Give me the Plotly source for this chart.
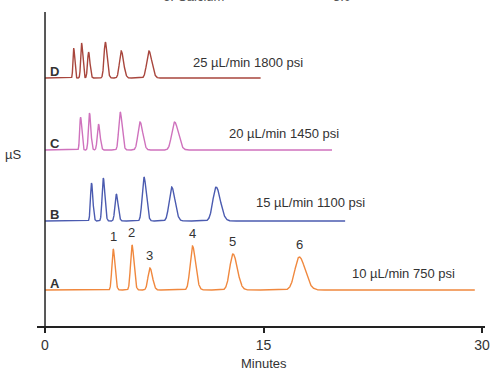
import numpy as np
import plotly.graph_objects as go

# ---- data ----
run_names = ["A", "B", "C", "D"]
run_conditions = ["10 µL/min 750 psi", "15 µL/min 1100 psi", "20 µL/min 1450 psi", "25 µL/min 1800 psi"]
run_colors = ["#f0883e", "#4b5bb0", "#cf72bd", "#a8463d"]
run_end_min = [29.5, 20.6, 19.7, 14.8]

# retention times (min)
rt_A = [4.68, 5.97, 7.20, 10.12, 12.90, 17.45]
rt_B = [3.19, 4.00, 4.89, 6.79, 8.69, 11.74]
rt_C = [2.44, 3.05, 3.67, 5.16, 6.52, 8.89]
rt_D = [1.97, 2.51, 2.99, 4.14, 5.23, 7.13]

# peak heights (µS, arbitrary)
h_A = [41, 45, 22, 44, 36, 33]
h_B = [38, 43, 27, 44, 34, 34]
h_C = [33, 37, 26, 38, 28, 28]
h_D = [30, 35, 26, 36, 27, 27]

# peak widths (sigma, min)
w_A = [0.09, 0.10, 0.13, 0.16, 0.22, 0.30]
w_B = [0.07, 0.08, 0.09, 0.12, 0.17, 0.22]
w_C = [0.06, 0.07, 0.08, 0.10, 0.14, 0.19]
w_D = [0.05, 0.06, 0.07, 0.09, 0.12, 0.15]

peak_labels = ["1", "2", "3", "4", "5", "6"]

x_ticks = [0, 15, 30]

# ---- layout constants ----
baselines = [36, 105, 176, 248]
rts = [rt_A, rt_B, rt_C, rt_D]
hs = [h_A, h_B, h_C, h_D]
ws = [w_A, w_B, w_C, w_D]

FONT = "Liberation Sans, Arial, Helvetica, sans-serif"
TXT = "#333333"

fig = go.Figure()
for i in range(4):
    t = np.linspace(0, run_end_min[i], 3000)
    y = np.full_like(t, baselines[i], dtype=float)
    for r, h, w in zip(rts[i], hs[i], ws[i]):
        # slight tailing: wider on the right side
        s = np.where(t < r, w, w * 1.35)
        y += h * np.exp(-0.5 * ((t - r) / s) ** 2)
    fig.add_trace(go.Scatter(x=t, y=y, mode="lines",
                             line=dict(color=run_colors[i], width=1.4),
                             hoverinfo="skip", showlegend=False))

annotations = []
# run letters
for i, name in enumerate(run_names):
    annotations.append(dict(x=0.2, y=baselines[i] + 7, text=f"<b>{name}</b>", showarrow=False,
                            xanchor="left", yanchor="middle",
                            font=dict(size=13, color=TXT, family=FONT)))
# condition labels
cond_pos = [(24.6, 53), (18.2, 124), (16.4, 193), (13.9, 264)]
for i, txt in enumerate(run_conditions):
    annotations.append(dict(x=cond_pos[i][0], y=cond_pos[i][1], text=txt, showarrow=False,
                            xanchor="center", yanchor="middle",
                            font=dict(size=13, color=TXT, family=FONT)))
# peak numbers above run A
for r, h, lab in zip(rt_A, h_A, peak_labels):
    annotations.append(dict(x=r, y=baselines[0] + h + 3, text=lab, showarrow=False,
                            xanchor="center", yanchor="bottom",
                            font=dict(size=13, color=TXT, family=FONT)))
# axis titles
annotations.append(dict(xref="paper", yref="paper", x=-0.032, y=0.545, text="µS", showarrow=False,
                        xanchor="right", yanchor="middle",
                        font=dict(size=13, color=TXT, family=FONT)))
annotations.append(dict(x=15, xref="x", yref="paper", y=-0.09, text="Minutes", showarrow=False,
                        xanchor="center", yanchor="top",
                        font=dict(size=13, color=TXT, family=FONT)))
# partially cut text at top edge (as in the reference)
annotations.append(dict(xref="paper", yref="paper", x=0.35, y=1.048, text="6. Calcium", showarrow=False,
                        xanchor="center", yanchor="middle",
                        font=dict(size=13, color="#555555", family=FONT)))
annotations.append(dict(xref="paper", yref="paper", x=0.68, y=1.048, text="5.0", showarrow=False,
                        xanchor="center", yanchor="middle",
                        font=dict(size=13, color="#555555", family=FONT)))

fig.update_layout(
    width=496, height=370,
    margin=dict(l=37, r=6, t=12, b=44),
    paper_bgcolor="white", plot_bgcolor="white",
    annotations=annotations,
    shapes=[dict(type="line", xref="x", yref="paper", x0=0, x1=0, y0=0, y1=1,
                 line=dict(color="#222222", width=1.5))],
    xaxis=dict(range=[-0.55, 30.2], tickvals=x_ticks, ticktext=[str(v) for v in x_ticks],
               showgrid=False, zeroline=False, showline=True, linecolor="#222222", linewidth=1.5,
               ticks="outside", ticklen=5, tickwidth=1.5, tickcolor="#222222",
               tickfont=dict(size=14, color=TXT, family=FONT)),
    yaxis=dict(range=[0, 314], showgrid=False, zeroline=False, showline=False,
               showticklabels=False, ticks=""),
)

fig.write_html("out.html", config={"displayModeBar": False},
               post_script="document.body.style.margin='0';document.body.style.overflow='hidden';")
